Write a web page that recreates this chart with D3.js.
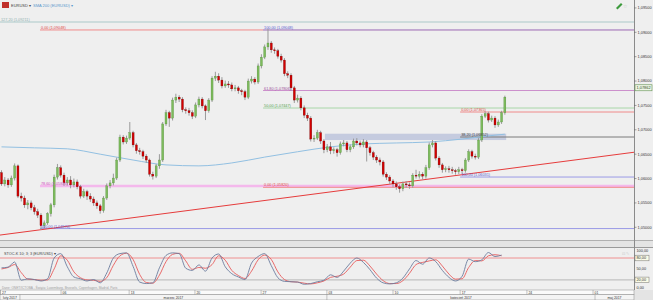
<!DOCTYPE html>
<html>
<head>
<meta charset="utf-8">
<script src="https://cdn.jsdelivr.net/npm/d3@7"></script>
<style>
  body { margin: 0; background: #fff; }
  svg { display: block; font-family: "Liberation Sans", Arial, sans-serif; }
</style>
</head>
<body>
<div id="chart"></div>
<script>
// EURUSD candles (index 0 = first visible bar)
const opens = [1.0612,1.0589,1.0597,1.0587,1.0601,1.0626,1.0564,1.0560,1.0546,1.0550,
  1.0540,1.0532,1.0525,1.0503,1.0509,1.0528,1.0546,1.0603,1.0622,1.0607,
  1.0591,1.0597,1.0587,1.0593,1.0583,1.0564,1.0573,1.0564,1.0558,1.0550,
  1.0544,1.0534,1.0560,1.0585,1.0591,1.0601,1.0638,1.0685,1.0675,1.0683,
  1.0694,1.0669,1.0657,1.0655,1.0646,1.0638,1.0609,1.0605,1.0626,1.0638,
  1.0712,1.0735,1.0724,1.0761,1.0767,1.0763,1.0741,1.0739,1.0735,1.0728,
  1.0751,1.0763,1.0749,1.0739,1.0761,1.0806,1.0810,1.0802,1.0790,1.0794,
  1.0792,1.0784,1.0786,1.0780,1.0778,1.0767,1.0800,1.0804,1.0798,1.0831,
  1.0849,1.0870,1.0878,1.0864,1.0862,1.0851,1.0843,1.0815,1.0812,1.0786,
  1.0761,1.0765,1.0745,1.0730,1.0724,1.0681,1.0683,1.0694,1.0677,1.0659,
  1.0665,1.0657,1.0659,1.0653,1.0671,1.0673,1.0659,1.0665,1.0677,1.0673,
  1.0669,1.0675,1.0663,1.0653,1.0644,1.0638,1.0634,1.0609,1.0603,1.0595,
  1.0589,1.0583,1.0579,1.0589,1.0587,1.0585,1.0607,1.0605,1.0609,1.0605,
  1.0622,1.0669,1.0673,1.0642,1.0628,1.0618,1.0620,1.0618,1.0616,1.0614,
  1.0618,1.0616,1.0638,1.0655,1.0646,1.0644,1.0679,1.0728,1.0733,1.0720,
  1.0724,1.0710,1.0716,1.0735];
const closes = [1.0589,1.0597,1.0587,1.0601,1.0626,1.0564,1.0560,1.0546,1.0550,1.0540,
  1.0532,1.0525,1.0503,1.0509,1.0528,1.0546,1.0603,1.0622,1.0607,1.0591,
  1.0597,1.0587,1.0593,1.0583,1.0564,1.0573,1.0564,1.0558,1.0550,1.0544,
  1.0534,1.0560,1.0585,1.0591,1.0601,1.0638,1.0685,1.0675,1.0683,1.0694,
  1.0669,1.0657,1.0655,1.0646,1.0638,1.0609,1.0605,1.0626,1.0638,1.0712,
  1.0735,1.0724,1.0761,1.0767,1.0763,1.0741,1.0739,1.0735,1.0728,1.0751,
  1.0763,1.0749,1.0739,1.0761,1.0806,1.0810,1.0802,1.0790,1.0794,1.0792,
  1.0784,1.0786,1.0780,1.0778,1.0767,1.0800,1.0804,1.0798,1.0831,1.0849,
  1.0870,1.0878,1.0864,1.0862,1.0851,1.0843,1.0815,1.0812,1.0786,1.0761,
  1.0765,1.0745,1.0730,1.0724,1.0681,1.0683,1.0694,1.0677,1.0659,1.0665,
  1.0657,1.0659,1.0653,1.0671,1.0673,1.0659,1.0665,1.0677,1.0673,1.0669,
  1.0675,1.0663,1.0653,1.0644,1.0638,1.0634,1.0609,1.0603,1.0595,1.0589,
  1.0583,1.0579,1.0589,1.0587,1.0585,1.0607,1.0605,1.0609,1.0605,1.0622,
  1.0669,1.0673,1.0642,1.0628,1.0618,1.0620,1.0618,1.0616,1.0614,1.0618,
  1.0616,1.0638,1.0655,1.0646,1.0644,1.0679,1.0728,1.0733,1.0720,1.0724,
  1.0710,1.0716,1.0735,1.0767];
const highs = [1.0617,1.0603,1.0601,1.0606,1.0631,1.0629,1.0571,1.0565,1.0556,1.0555,
  1.0546,1.0538,1.0529,1.0514,1.0531,1.0550,1.0608,1.0630,1.0627,1.0612,
  1.0603,1.0605,1.0600,1.0598,1.0587,1.0579,1.0577,1.0570,1.0563,1.0555,
  1.0548,1.0564,1.0590,1.0597,1.0610,1.0643,1.0690,1.0689,1.0688,1.0716,
  1.0698,1.0673,1.0663,1.0659,1.0650,1.0641,1.0614,1.0630,1.0650,1.0716,
  1.0741,1.0739,1.0766,1.0774,1.0771,1.0767,1.0746,1.0745,1.0740,1.0756,
  1.0768,1.0767,1.0752,1.0765,1.0810,1.0819,1.0816,1.0808,1.0801,1.0800,
  1.0797,1.0792,1.0790,1.0784,1.0782,1.0805,1.0810,1.0808,1.0836,1.0855,
  1.0875,1.0907,1.0882,1.0869,1.0866,1.0856,1.0847,1.0820,1.0816,1.0790,
  1.0772,1.0769,1.0750,1.0735,1.0728,1.0689,1.0700,1.0698,1.0681,1.0671,
  1.0675,1.0664,1.0663,1.0676,1.0679,1.0677,1.0670,1.0682,1.0683,1.0678,
  1.0681,1.0679,1.0667,1.0657,1.0648,1.0643,1.0638,1.0613,1.0607,1.0599,
  1.0594,1.0588,1.0594,1.0595,1.0592,1.0611,1.0618,1.0615,1.0613,1.0628,
  1.0674,1.0679,1.0677,1.0646,1.0632,1.0625,1.0626,1.0624,1.0620,1.0624,
  1.0622,1.0642,1.0660,1.0659,1.0651,1.0683,1.0732,1.0738,1.0737,1.0729,
  1.0728,1.0721,1.0739,1.0770];
const lows = [1.0585,1.0584,1.0581,1.0583,1.0596,1.0560,1.0553,1.0540,1.0537,1.0535,
  1.0526,1.0519,1.0495,1.0498,1.0505,1.0522,1.0541,1.0598,1.0602,1.0585,
  1.0586,1.0580,1.0582,1.0578,1.0559,1.0560,1.0556,1.0552,1.0544,1.0538,
  1.0528,1.0530,1.0556,1.0580,1.0586,1.0597,1.0634,1.0670,1.0671,1.0679,
  1.0664,1.0651,1.0649,1.0640,1.0632,1.0604,1.0598,1.0601,1.0620,1.0634,
  1.0708,1.0706,1.0719,1.0755,1.0757,1.0736,1.0733,1.0729,1.0722,1.0724,
  1.0746,1.0744,1.0720,1.0735,1.0757,1.0800,1.0796,1.0785,1.0786,1.0786,
  1.0779,1.0779,1.0774,1.0771,1.0761,1.0763,1.0795,1.0793,1.0794,1.0826,
  1.0845,1.0864,1.0858,1.0856,1.0846,1.0838,1.0810,1.0806,1.0780,1.0755,
  1.0756,1.0740,1.0724,1.0718,1.0676,1.0675,1.0679,1.0671,1.0652,1.0654,
  1.0650,1.0651,1.0645,1.0649,1.0666,1.0654,1.0654,1.0661,1.0668,1.0664,
  1.0664,1.0635,1.0647,1.0638,1.0632,1.0627,1.0604,1.0597,1.0589,1.0582,
  1.0577,1.0571,1.0574,1.0581,1.0579,1.0581,1.0600,1.0600,1.0598,1.0600,
  1.0618,1.0664,1.0637,1.0622,1.0612,1.0613,1.0612,1.0610,1.0608,1.0609,
  1.0610,1.0612,1.0634,1.0641,1.0639,1.0640,1.0675,1.0724,1.0715,1.0716,
  1.0704,1.0706,1.0712,1.0731];

// SMA 200, read every 10 bars
const smaIdx = [0, 10, 20, 30, 40, 50, 60, 70, 80, 90, 100, 110, 120, 130, 140, 150, 153];
const smaVals = [1.0665, 1.0663, 1.0661, 1.0650, 1.0638, 1.0628, 1.0626, 1.0632, 1.0644,
  1.0655, 1.0665, 1.0671, 1.0673, 1.0675, 1.0681, 1.0689, 1.0691];

// Stochastic 10;3;3, read every second bar
const stochK = [53,55,69,19,23,21,17,23,80,92,56,28,23,17,21,12,39,80,92,94,
  57,14,10,12,53,87,94,92,52,46,61,44,80,91,56,37,28,21,66,84,
  92,59,26,16,15,14,8,10,15,19,34,27,44,66,80,68,48,25,12,9,
  12,25,50,73,63,80,70,46,27,17,30,77,70,75,95,84,88];
const stochD = [50,54,62,40,22,21,19,20,50,86,74,42,26,20,19,16,26,60,86,93,
  76,35,13,11,33,70,90,93,72,49,54,52,62,86,74,46,32,24,44,75,
  88,76,42,21,15,14,11,9,12,17,27,30,36,55,73,74,58,36,18,10,
  10,18,38,62,68,72,75,58,36,22,23,54,73,72,86,89,86];
const stochLevels = [80, 20];

// Fibonacci levels
const fibLevels = ["127,20", "0,00", "78,60", "100,00", "100,00", "61,80", "50,00", "0,00", "0,00", "38,20", "100,00"];
const fibPrices = [1.09211, 1.09048, 1.05846, 1.04974, 1.09048, 1.07806, 1.07447, 1.05820, 1.07365, 1.06852, 1.06031];
const fibStart = [-1, 11.7, 11.7, 11.7, 79.5, 79.5, 79.5, 79.5, 139.4, 139.4, 139.4];

// trend line and zone
const trendIdx = [-1, 193];
const trendVals = [1.04836, 1.06546];
const zoneIdx = [98.3, 153.4];
const zoneVals = [1.0692, 1.0679];
const lastPrice = 1.07862;

// axis labels
const priceTicks = [1.050, 1.055, 1.060, 1.065, 1.070, 1.075, 1.080, 1.085, 1.090, 1.095];
const weekIdx = [-0.3, 18.1, 38.8, 58.8, 78.9, 98.9, 119, 139.4, 159.7, 179.8];
const weekLabels = ["27", "06", "13", "20", "27", "03", "10", "17", "24", "01"];
const monthIdx = [-1, 5.6, 98.9, 180.4, 193];
const monthLabels = ["luty 2017", "marzec 2017", "kwiecień 2017", "maj 2017"];

const W = 653, H = 300, R = 634;
const mainTop = 0, mainBot = 240, stTop = 248, stBot = 290;

const svg = d3.select("#chart").append("svg")
  .attr("width", W).attr("height", H);

const x = d3.scaleLinear().domain([0, 153]).range([1.5, 1.5 + 153 * 3.29]);
const y = d3.scaleLinear().domain([1.09, 1.05]).range([32.3, 227.3]);
const ys = d3.scaleLinear().domain([0, 100]).range([287.2, 250.7]);
const fmt = v => d3.format(".5f")(v).replace(".", ",");

// backgrounds
svg.append("rect").attr("width", W).attr("height", H).attr("fill", "#e4e4e4");
svg.append("rect").attr("x", 0).attr("y", mainTop).attr("width", W).attr("height", mainBot - mainTop).attr("fill", "#efefef");
svg.append("rect").attr("x", 0).attr("y", stTop).attr("width", W).attr("height", stBot - stTop).attr("fill", "#efefef");
svg.append("line").attr("x1", 0).attr("x2", W).attr("y1", mainBot + 0.5).attr("y2", mainBot + 0.5).attr("stroke", "#b0b0b0");
svg.append("line").attr("x1", 0).attr("x2", W).attr("y1", stTop - 0.5).attr("y2", stTop - 0.5).attr("stroke", "#9a9a9a");
svg.append("line").attr("x1", R + 0.5).attr("x2", R + 0.5).attr("y1", 0).attr("y2", stBot).attr("stroke", "#8a8a8a");

const defs = svg.append("defs");
defs.append("clipPath").attr("id", "clipMain").append("rect")
  .attr("x", 0).attr("y", mainTop).attr("width", R).attr("height", mainBot - mainTop);
defs.append("clipPath").attr("id", "clipSt").append("rect")
  .attr("x", 0).attr("y", stTop).attr("width", R).attr("height", stBot - stTop);

const main = svg.append("g").attr("clip-path", "url(#clipMain)");

// zone
main.append("rect")
  .attr("x", x(zoneIdx[0])).attr("width", x(zoneIdx[1]) - x(zoneIdx[0]))
  .attr("y", y(zoneVals[0])).attr("height", y(zoneVals[1]) - y(zoneVals[0]))
  .attr("fill", "#c5cbdf");

// fib lines
const fibStyle = {
  "127,20": { line: "#c2d6d6", text: "#8fb0b0", w: 1.5 },
  "0,00": { line: "#f08a8a", text: "#e04a4a", w: 1 },
  "78,60": { line: "#f4b8ec", text: "#d050c0", w: 2.5 },
  "100,00": { line: "#9a9ae6", text: "#5a5ad0", w: 1 },
  "61,80": { line: "#cc90cc", text: "#a050a0", w: 1 },
  "50,00": { line: "#a8d6a8", text: "#50a050", w: 1 },
  "38,20": { line: "#7a7a7a", text: "#404040", w: 1 }
};
const fibs = fibLevels.map((lv, i) => ({ lv, p: fibPrices[i], s: fibStart[i] }));
main.selectAll(".fib").data(fibs).enter().append("line")
  .attr("x1", d => x(d.s)).attr("x2", R)
  .attr("y1", d => y(d.p)).attr("y2", d => y(d.p))
  .attr("stroke", d => fibStyle[d.lv].line)
  .attr("stroke-width", d => fibStyle[d.lv].w);

// SMA 200
main.append("path")
  .datum(smaIdx.map((d, i) => [d, smaVals[i]]))
  .attr("fill", "none").attr("stroke", "#92c0e2").attr("stroke-width", 1)
  .attr("d", d3.line().x(d => x(d[0])).y(d => y(d[1])).curve(d3.curveMonotoneX));

// trend line
main.append("line")
  .attr("x1", x(trendIdx[0])).attr("y1", y(trendVals[0]))
  .attr("x2", x(trendIdx[1])).attr("y2", y(trendVals[1]))
  .attr("stroke", "#e63c3c").attr("stroke-width", 1);

// candles
const candles = closes.map((c, i) => ({ i, o: opens[i], c, h: highs[i], l: lows[i] }));
main.selectAll(".wick").data(candles).enter().append("line")
  .attr("x1", d => x(d.i)).attr("x2", d => x(d.i))
  .attr("y1", d => y(d.h)).attr("y2", d => y(d.l))
  .attr("stroke", "#9a9a9a").attr("stroke-width", 1);
main.selectAll(".body").data(candles).enter().append("rect")
  .attr("x", d => x(d.i) - 1).attr("width", 2)
  .attr("y", d => y(Math.max(d.o, d.c)))
  .attr("height", d => Math.max(0.8, Math.abs(y(d.o) - y(d.c))))
  .attr("fill", d => d.c >= d.o ? "#7dbb5c" : "#d40000")
  .attr("stroke", d => d.c >= d.o ? "#4d8a36" : "#6a0000")
  .attr("stroke-width", 0.3);

// fib labels
main.selectAll(".fibt").data(fibs).enter().append("text")
  .attr("x", d => Math.max(1, x(d.s) + 1)).attr("y", d => y(d.p) - 1)
  .attr("font-size", 3.8).attr("fill", d => fibStyle[d.lv].text)
  .text(d => `${d.lv} (${fmt(d.p)})`);

// right price axis
const yAxis = svg.append("g");
yAxis.selectAll("line").data(priceTicks).enter().append("line")
  .attr("x1", R).attr("x2", R + 2.5)
  .attr("y1", d => y(d)).attr("y2", d => y(d))
  .attr("stroke", "#666").attr("stroke-width", 0.6);
yAxis.selectAll("text").data(priceTicks).enter().append("text")
  .attr("x", R + 3.5).attr("y", d => y(d) + 1.4)
  .attr("font-size", 3.9).attr("fill", "#333")
  .text(d => fmt(d));

// current price marker
svg.append("rect").attr("x", R + 1).attr("y", y(lastPrice) - 3).attr("width", 17).attr("height", 6)
  .attr("fill", "#eef6e6").attr("stroke", "#5f8f4f").attr("stroke-width", 0.6);
svg.append("text").attr("x", R + 2.5).attr("y", y(lastPrice) + 1.4)
  .attr("font-size", 3.9).attr("fill", "#2a4a20").text(fmt(lastPrice));

// header
svg.append("rect").attr("x", 2).attr("y", 2).attr("width", 7).attr("height", 6).attr("fill", "#c0302a");
svg.append("text").attr("x", 11).attr("y", 6.6).attr("font-size", 4).attr("fill", "#444").text("EURUSD ▾");
svg.append("text").attr("x", 33).attr("y", 6.6).attr("font-size", 4).attr("fill", "#5a98cc").text("SMA 200 (EURUSD) ▾");
svg.append("path").attr("d", "M616,8 L621,3 L622.5,4.5 L617.5,9.5 Z").attr("fill", "#3c9a3c");
svg.append("text").attr("x", 623).attr("y", 8).attr("font-size", 5).attr("fill", "#c8c8c8").text("☆");

// stochastic panel
const st = svg.append("g").attr("clip-path", "url(#clipSt)");
st.selectAll(".lvl").data(stochLevels).enter().append("line")
  .attr("x1", 0).attr("x2", R)
  .attr("y1", d => ys(d)).attr("y2", d => ys(d))
  .attr("stroke", d => d === 80 ? "#f07a7a" : "#a8a8a8").attr("stroke-width", 0.8);
const sLine = d3.line().x((d, j) => x(j * 2)).y(d => ys(d)).curve(d3.curveMonotoneX);
st.append("path").datum(stochD).attr("fill", "none").attr("stroke", "#e85a5a").attr("stroke-width", 0.9).attr("d", sLine);
st.append("path").datum(stochK).attr("fill", "none").attr("stroke", "#6c7d9e").attr("stroke-width", 0.9).attr("d", sLine);

svg.append("text").attr("x", 4).attr("y", 255).attr("font-size", 3.8).attr("fill", "#444")
  .text("STOC-K 10; 3; 3 (EUR/USD) ▾");
svg.append("text").attr("x", 2).attr("y", 288.8).attr("font-size", 3.2).attr("fill", "#a0a0a0")
  .text("Dane: ONET/ICTOBA - Święta: Luxemburg, Brussels, Copenhagen, Madrid, Paris");
svg.append("text").attr("x", 622).attr("y", 254.5).attr("font-size", 3.5).attr("fill", "#c8c8c8").text("⊡ ✎");

// stochastic right labels
const stLabels = [100, 80, 50, 20, 0];
stLabels.forEach(v => {
  if (v === 80 || v === 20) {
    svg.append("rect").attr("x", R + 1).attr("y", ys(v) - 2.8).attr("width", 14).attr("height", 5.6)
      .attr("fill", "#fbfbe6").attr("stroke", "#707070").attr("stroke-width", 0.5);
  }
  svg.append("text").attr("x", R + 2.5).attr("y", ys(v) + 1.3)
    .attr("font-size", 3.8).attr("fill", "#333")
    .text(d3.format(".2f")(v).replace(".", ","));
});

// date axis rows
svg.append("rect").attr("x", 0).attr("y", stBot).attr("width", R).attr("height", 4.5)
  .attr("fill", "#fafafa").attr("stroke", "#8a8a8a").attr("stroke-width", 0.5);
svg.append("rect").attr("x", 0).attr("y", stBot + 4.5).attr("width", R).attr("height", 5.5)
  .attr("fill", "#f4f4f4").attr("stroke", "#8a8a8a").attr("stroke-width", 0.5);
svg.selectAll(".wk").data(weekIdx).enter().append("line")
  .attr("x1", d => x(d)).attr("x2", d => x(d))
  .attr("y1", stBot).attr("y2", stBot + 4.5)
  .attr("stroke", "#8a8a8a").attr("stroke-width", 0.5);
svg.selectAll(".wkt").data(weekIdx).enter().append("text")
  .attr("x", d => Math.max(1.5, x(d) + 1.5)).attr("y", stBot + 3.8)
  .attr("font-size", 3.4).attr("fill", "#333")
  .text((d, i) => weekLabels[i]);
svg.selectAll(".mo").data(monthIdx.slice(1, 4)).enter().append("line")
  .attr("x1", d => x(d)).attr("x2", d => x(d))
  .attr("y1", stBot + 4.5).attr("y2", H)
  .attr("stroke", "#8a8a8a").attr("stroke-width", 0.5);
svg.selectAll(".mot").data(monthLabels).enter().append("text")
  .attr("x", (d, i) => (Math.max(0, x(monthIdx[i])) + Math.min(R, x(monthIdx[i + 1]))) / 2)
  .attr("y", stBot + 9)
  .attr("text-anchor", "middle").attr("font-size", 3.4).attr("fill", "#333")
  .text(d => d);
</script>
</body>
</html>
